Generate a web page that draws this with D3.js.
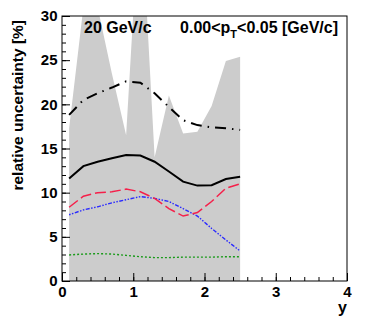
<!DOCTYPE html>
<html>
<head>
<meta charset="utf-8">
<script src="https://cdn.jsdelivr.net/npm/d3@7"></script>
<style>
  body { margin: 0; background: #fff; }
  svg { display: block; font-family: 'Liberation Sans', Arial, sans-serif; font-weight: bold; }
</style>
</head>
<body>
<div id="chart"></div>
<script>
// rapidity bins (bin centres)
const rapidity = [0.1, 0.3, 0.5, 0.7, 0.9, 1.1, 1.3, 1.5, 1.7, 1.9, 2.1, 2.3, 2.5]
// grey band, upper edge (goes beyond the frame in places)
const bandUpper = [17.3, 31, 31, 23.5, 16.5, 44, 14.0, 21.0, 16.7, 16.9, 19.8, 24.9, 25.4]
// uncertainty components [%]
const dashDotBlack = [18.8, 20.5, 21.25, 21.9, 22.6, 22.45, 21.25, 19.7, 18.2, 17.65, 17.4, 17.3, 17.1]
const solidBlack = [11.6, 13.0, 13.5, 13.9, 14.25, 14.2, 13.5, 12.4, 11.25, 10.8, 10.85, 11.55, 11.8]
const dashedRed = [8.35, 9.6, 10.0, 10.1, 10.4, 10.1, 9.35, 8.2, 7.35, 7.75, 9.0, 10.5, 11.0]
const dottedBlue = [7.5, 8.05, 8.4, 8.85, 9.2, 9.55, 9.35, 9.0, 8.2, 7.35, 5.95, 4.65, 3.4]
const dottedGreen = [2.95, 3.05, 3.1, 3.05, 2.9, 2.75, 2.65, 2.65, 2.7, 2.7, 2.7, 2.75, 2.75]

const xTicks = [0, 1, 2, 3, 4]
const yTicks = [0, 5, 10, 15, 20, 25, 30]

let width = 366,
  height = 331
let frame = { left: 62, right: 347, top: 16, bottom: 281 }

let x = d3.scaleLinear().domain([0, 4]).range([frame.left, frame.right])
let y = d3.scaleLinear().domain([0, 30]).range([frame.bottom, frame.top])

let svg = d3
  .select('#chart')
  .append('svg')
  .attr('width', width)
  .attr('height', height)

svg
  .append('defs')
  .append('clipPath')
  .attr('id', 'frame-clip')
  .append('rect')
  .attr('x', frame.left)
  .attr('y', frame.top)
  .attr('width', frame.right - frame.left)
  .attr('height', frame.bottom - frame.top)

let plot = svg.append('g').attr('clip-path', 'url(#frame-clip)')

// Band
let area = d3
  .area()
  .x(function(d, i) {
    return x(rapidity[i])
  })
  .y0(y(0))
  .y1(function(d) {
    return y(d)
  })

plot
  .append('path')
  .datum(bandUpper)
  .attr('d', area)
  .style('fill', '#cccccc')

// Lines
let line = d3
  .line()
  .x(function(d, i) {
    return x(rapidity[i])
  })
  .y(function(d) {
    return y(d)
  })

let series = [
  { values: dottedGreen, color: '#1a9a1a', width: 1.4, dash: '2,2' },
  { values: dottedBlue, color: '#2a2aff', width: 1.4, dash: '1.5,1.5,1.5,1.5,4,1.5' },
  { values: dashedRed, color: '#f5204a', width: 1.5, dash: '11,4' },
  { values: solidBlack, color: '#000', width: 2, dash: null },
  { values: dashDotBlack, color: '#000', width: 2, dash: '11,6,1.5,6' },
]

plot
  .selectAll('path.series')
  .data(series)
  .enter()
  .append('path')
  .classed('series', true)
  .attr('d', function(d) {
    return line(d.values)
  })
  .style('fill', 'none')
  .style('stroke', function(d) {
    return d.color
  })
  .style('stroke-width', function(d) {
    return d.width
  })
  .style('stroke-dasharray', function(d) {
    return d.dash
  })

// Axes: ROOT style, ticks pointing into the frame
let xMinor = svg
  .append('g')
  .attr('transform', 'translate(0,' + frame.bottom + ')')
  .call(
    d3
      .axisBottom(x)
      .tickValues(d3.range(0, 21).map(function(i) { return i * 0.2 }))
      .tickSize(-4)
      .tickFormat('')
  )
xMinor.select('.domain').remove()

let xAxis = svg
  .append('g')
  .attr('transform', 'translate(0,' + frame.bottom + ')')
  .call(
    d3
      .axisBottom(x)
      .tickValues(xTicks)
      .tickSize(-8)
      .tickPadding(5.5)
      .tickFormat(d3.format('d'))
  )
xAxis.select('.domain').remove()

let yMinor = svg
  .append('g')
  .attr('transform', 'translate(' + frame.left + ',0)')
  .call(
    d3
      .axisLeft(y)
      .tickValues(d3.range(0, 31))
      .tickSize(-4)
      .tickFormat('')
  )
yMinor.select('.domain').remove()

let yAxis = svg
  .append('g')
  .attr('transform', 'translate(' + frame.left + ',0)')
  .call(
    d3
      .axisLeft(y)
      .tickValues(yTicks)
      .tickSize(-8)
      .tickPadding(4.5)
      .tickFormat(d3.format('d'))
  )
yAxis.select('.domain').remove()

svg
  .selectAll('.tick line')
  .style('stroke', '#000')
  .style('stroke-width', 1)
svg
  .selectAll('.tick text')
  .style('font-family', "'Liberation Sans', Arial, sans-serif")
  .style('font-weight', 'bold')
  .style('font-size', '15px')
  .style('fill', '#000')

// Frame
svg
  .append('rect')
  .attr('x', frame.left)
  .attr('y', frame.top)
  .attr('width', frame.right - frame.left)
  .attr('height', frame.bottom - frame.top)
  .style('fill', 'none')
  .style('stroke', '#000')
  .style('stroke-width', 1)

// Titles
svg
  .append('text')
  .attr('transform', 'translate(23,20) rotate(-90)')
  .attr('text-anchor', 'end')
  .style('font-size', '15.5px')
  .text('relative uncertainty [%]')

svg
  .append('text')
  .attr('x', frame.right)
  .attr('y', 313)
  .attr('text-anchor', 'end')
  .style('font-size', '16px')
  .text('y')

svg
  .append('text')
  .attr('x', 84)
  .attr('y', 33)
  .style('font-size', '16px')
  .text('20 GeV/c')

let ptLabel = svg
  .append('text')
  .attr('x', 338)
  .attr('y', 33)
  .attr('text-anchor', 'end')
  .style('font-size', '16px')
ptLabel.append('tspan').text('0.00<p')
ptLabel
  .append('tspan')
  .attr('dy', 5)
  .style('font-size', '11px')
  .text('T')
ptLabel
  .append('tspan')
  .attr('dy', -5)
  .text('<0.05 [GeV/c]')
</script>
</body>
</html>
